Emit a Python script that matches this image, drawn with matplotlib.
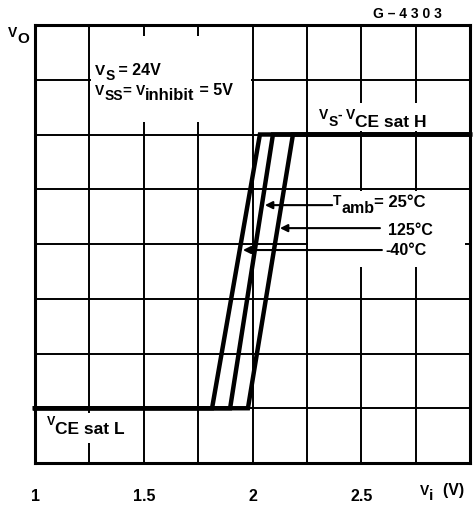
import matplotlib
matplotlib.use("Agg")
import matplotlib.pyplot as plt
from matplotlib.patches import Rectangle
from matplotlib.transforms import IdentityTransform

# ---- data ----
temps = ['-40°C', '25°C', '125°C']
vi_leave_low = [1.814, 1.897, 1.979]   # Vi where Vo leaves VCE sat L
vi_reach_high = [2.034, 2.094, 2.186]  # Vi where Vo reaches Vs - VCE sat H
vo_low = 1.0
vo_high = 6.0
x_ticks = [1, 1.5, 2, 2.5]
x_tick_labels = ['1', '1.5', '2', '2.5']

plt.rcParams['font.family'] = ['Liberation Sans', 'DejaVu Sans']
plt.rcParams['font.weight'] = 'bold'

W, H = 474, 509
fig = plt.figure(figsize=(W/100, H/100), dpi=100)
ax = fig.add_axes([35/W, 1-463/H, 435/W, 438/H])
ax.set_xlim(1, 3)
ax.set_ylim(0, 8)

ax.set_xticks(x_ticks)
ax.set_xticklabels(x_tick_labels, fontsize=11.5, fontweight='bold')
ax.set_xticks([1 + 0.25*i for i in range(9)], minor=True)
ax.set_yticks(range(9))
ax.set_yticklabels([])
ax.tick_params(axis='both', which='both', length=0)
ax.tick_params(axis='x', pad=19)
ax.grid(True, which='both', color='black', lw=1.4)
ax.set_axisbelow(True)
for s in ax.spines.values():
    s.set_linewidth(2.2)

# white areas behind labels (grid interrupted)
for (x0, y0, w, h) in [(1.256, 6.23, 0.739, 1.57),
                       (2.256, 6.06, 0.735, 0.51),
                       (2.256, 3.58, 0.72, 1.39),
                       (1.22, 0.37, 0.08, 0.54)]:
    ax.add_patch(Rectangle((x0, y0), w, h, facecolor='white', edgecolor='none', zorder=1))

for lo, hi in zip(vi_leave_low, vi_reach_high):
    ax.plot([1, lo, hi, 3], [vo_low, vo_low, vo_high, vo_high], color='black',
            lw=3.2, solid_joinstyle='miter', zorder=3, clip_on=False)

arrow = dict(arrowstyle='-|>', lw=1.5, color='black', mutation_scale=11, shrinkA=0, shrinkB=0)
ax.annotate('', xy=(2.057, 4.71), xytext=(2.366, 4.71), arrowprops=arrow, zorder=4)
ax.annotate('', xy=(2.126, 4.29), xytext=(2.586, 4.29), arrowprops=arrow, zorder=4)
ax.annotate('', xy=(1.956, 3.89), xytext=(2.595, 3.89), arrowprops=arrow, zorder=4)

renderer = fig.canvas.get_renderer()


def rich(x_px, base_px, parts):
    """parts: (string, fontsize, drop_px); x_px/base_px measured from the top-left."""
    cur = x_px
    for s, fs, drop in parts:
        t = fig.text(cur, H - base_px - drop, s, transform=IdentityTransform(),
                     fontsize=fs, fontweight='bold', ha='left', va='baseline', zorder=5)
        cur += t.get_window_extent(renderer).width


rich(95, 75, [('V', 11, 0), ('S', 10, 5), (' = 24V', 11.5, 0)])
rich(95, 95, [('V', 10, 0), ('SS', 10, 5), ('= ', 11, 0), ('V', 10, 0), ('inhibit', 12, 5), (' = 5V', 11.5, 0)])
rich(319, 119, [('V', 10, 0), ('S', 10, 7), ('- ', 10, 0), ('V', 10, 0), ('CE sat H', 12.5, 8)])
rich(47, 425, [('V', 9, 0), ('CE sat L', 12.5, 9)])
rich(333, 205, [('T', 10, 0), ('amb', 11.5, 8), ('= 25°C', 12, 2)])
rich(388, 235, [('125°C', 11.5, 0)])
rich(385, 255, [('-40°C', 11.5, 0)])
rich(420, 495, [('V', 10, 0), ('i', 11, 5), ('  (V)', 11.5, 0)])
rich(8, 37, [('V', 10, 0), ('O', 11, 6)])
rich(373, 18, [('G – 4 3 0 3', 10, 0)])

fig.savefig('out.png', dpi=100)
